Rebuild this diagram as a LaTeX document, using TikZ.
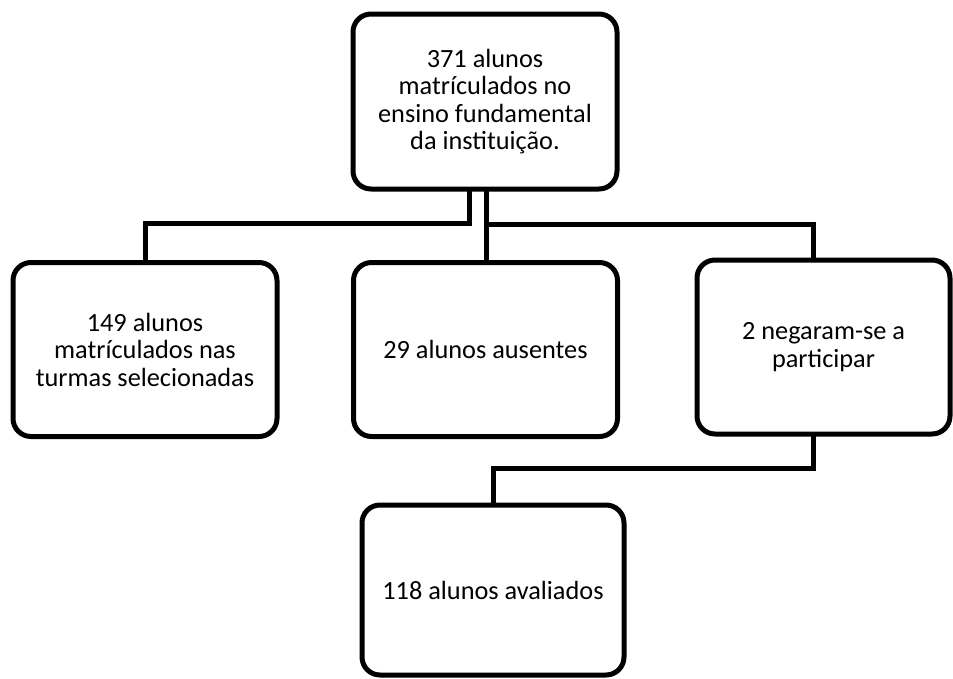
\documentclass[tikz,border=0pt]{standalone}
\usepackage{fontspec}
\setmainfont{Carlito}
\begin{document}
\begin{tikzpicture}[x=1pt,y=-1pt,
  box/.style={draw=black, line width=5pt, rounded corners=18pt, inner sep=0pt, outer sep=0pt,
    align=center, font=\fontsize{26.3}{27.5}\selectfont, fill=white},
  conn/.style={draw=black, line width=5pt}]
\useasboundingbox (0,0) rectangle (953,678);
\node[box, minimum width=264pt, minimum height=175pt] (top) at (485,101.5)
  {371 alunos\\matrículados no\\ensino fundamental\\da instituição.};
\node[box, minimum width=264pt, minimum height=174pt] (left) at (145,349.5)
  {149 alunos\\matrículados nas\\turmas selecionadas};
\node[box, minimum width=264pt, minimum height=174pt] (mid) at (485.5,349.5)
  {29 alunos ausentes};
\node[box, minimum width=253pt, minimum height=174pt] (right) at (823.5,347)
  {2 negaram-se a\\participar};
\node[box, minimum width=262pt, minimum height=170pt] (bot) at (493,590)
  {118 alunos avaliados};
\draw[conn] ([xshift=-16pt]top.south) |- (145,223) -- (left.north);
\draw[conn] ([xshift=1pt]top.south) -- ([xshift=0.5pt]mid.north);
\draw[conn] (486,224) -| ([xshift=-10.5pt]right.north);
\draw[conn] ([xshift=-10.5pt]right.south) |- (493,468) -- (bot.north);
\end{tikzpicture}
\end{document}
